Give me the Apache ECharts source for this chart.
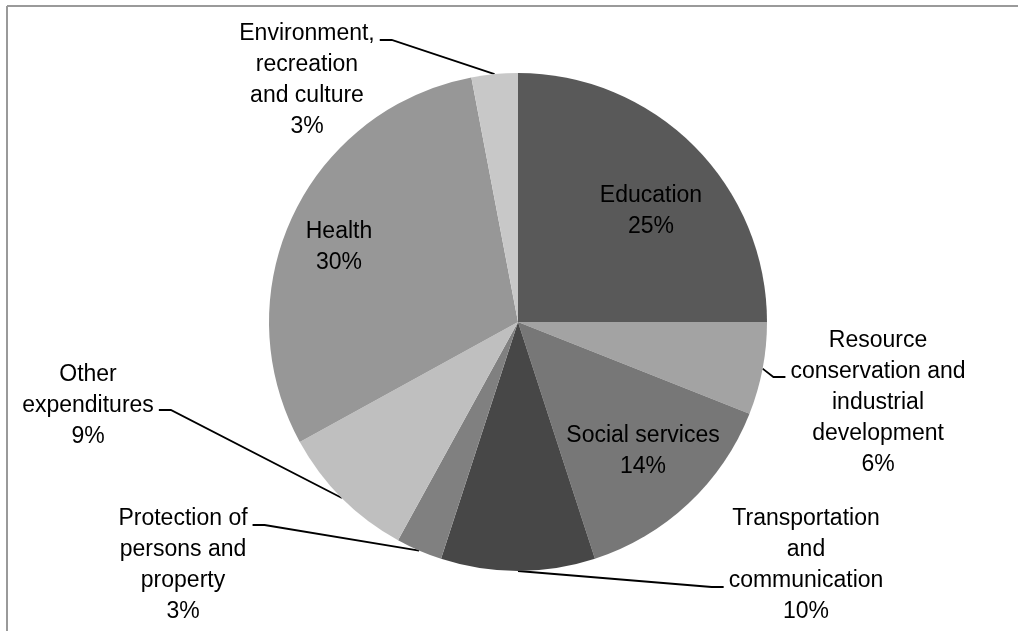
<!DOCTYPE html>
<html>
<head>
<meta charset="utf-8">
<script src="https://cdn.jsdelivr.net/npm/echarts@6/dist/echarts.min.js"></script>
<style>
  html, body { margin: 0; padding: 0; background: #fff; }
  #chart { width: 1018px; height: 631px; }
</style>
</head>
<body>
<div id="chart"></div>
<script>
// Spending categories, clockwise from 12 o'clock
const categories = [
  'Education',
  'Resource conservation and industrial development',
  'Social services',
  'Transportation and communication',
  'Protection of persons and property',
  'Other expenditures',
  'Health',
  'Environment, recreation and culture'
];
// Share of total spending, percent
const shares = [25, 6, 14, 10, 3, 9, 30, 3];
// Wrapped label text for each slice
const wrappedNames = [
  'Education',
  'Resource\nconservation and\nindustrial\ndevelopment',
  'Social services',
  'Transportation\nand\ncommunication',
  'Protection of\npersons and\nproperty',
  'Other\nexpenditures',
  'Health',
  'Environment,\nrecreation\nand culture'
];
const sliceColors = ['#595959', '#a3a3a3', '#777777', '#474747', '#808080', '#bfbfbf', '#979797', '#c8c8c8'];

// Pie geometry and label placement
const CX = 518, CY = 322, R = 249;
const insideIdx = [0, 2, 6];
const labelSpots = [
  { x: 651, y: 211 },
  { x: 878, y: 403, side: 'right', lineDy: -26 },
  { x: 643, y: 451 },
  { x: 806, y: 565, side: 'right', lineDy: 22 },
  { x: 183, y: 565, side: 'left', lineDy: -40 },
  { x: 88, y: 406, side: 'left', lineDy: 4 },
  { x: 339, y: 247 },
  { x: 307, y: 80, side: 'left', lineDy: -40 }
];

const total = shares.reduce((a, b) => a + b, 0);
function midAngle(i) {
  let before = 0;
  for (let k = 0; k < i; k++) before += shares[k];
  return (before + shares[i] / 2) / total * Math.PI * 2;
}

const pieData = categories.map((name, i) => {
  const item = { name: name, value: shares[i], itemStyle: { color: sliceColors[i] } };
  if (insideIdx.indexOf(i) >= 0) {
    item.label = { position: 'inside' };
    item.labelLine = { show: false };
  }
  return item;
});

const chart = echarts.init(document.getElementById('chart'), null, { renderer: 'canvas' });
chart.setOption({
  animation: false,
  backgroundColor: '#fff',
  graphic: [
    { type: 'line', shape: { x1: 7, y1: 6, x2: 1018, y2: 6 }, style: { stroke: '#9a9a9a', lineWidth: 2 } },
    { type: 'line', shape: { x1: 7, y1: 6, x2: 7, y2: 631 }, style: { stroke: '#9a9a9a', lineWidth: 2 } }
  ],
  series: [{
    type: 'pie',
    center: [CX, CY],
    radius: R,
    startAngle: 90,
    clockwise: true,
    percentPrecision: 0,
    avoidLabelOverlap: false,
    emphasis: { scale: false },
    itemStyle: { borderWidth: 0 },
    label: {
      show: true,
      position: 'outside',
      color: '#000',
      fontFamily: '"Liberation Sans", Arial, sans-serif',
      fontSize: 23,
      lineHeight: 31,
      align: 'center',
      formatter: p => wrappedNames[p.dataIndex] + '\n' + Math.round(p.percent) + '%'
    },
    labelLine: {
      show: true,
      smooth: false,
      length: 10,
      length2: 10,
      lineStyle: { color: '#000', width: 1.8 }
    },
    labelLayout: function (params) {
      const i = params.dataIndex;
      const spot = labelSpots[i];
      const w = params.labelRect.width;
      const out = { x: spot.x, y: spot.y, align: 'center', verticalAlign: 'middle' };
      if (spot.side) {
        const a = midAngle(i);
        const anchor = [CX + R * Math.sin(a), CY - R * Math.cos(a)];
        const ly = spot.y + spot.lineDy;
        if (spot.side === 'left') {
          const edge = spot.x + w / 2 + 5;
          out.labelLinePoints = [anchor, [edge + 12, ly], [edge, ly]];
        } else {
          const edge = spot.x - w / 2 - 5;
          out.labelLinePoints = [anchor, [edge - 12, ly], [edge, ly]];
        }
      }
      return out;
    },
    data: pieData
  }]
});
</script>
</body>
</html>
